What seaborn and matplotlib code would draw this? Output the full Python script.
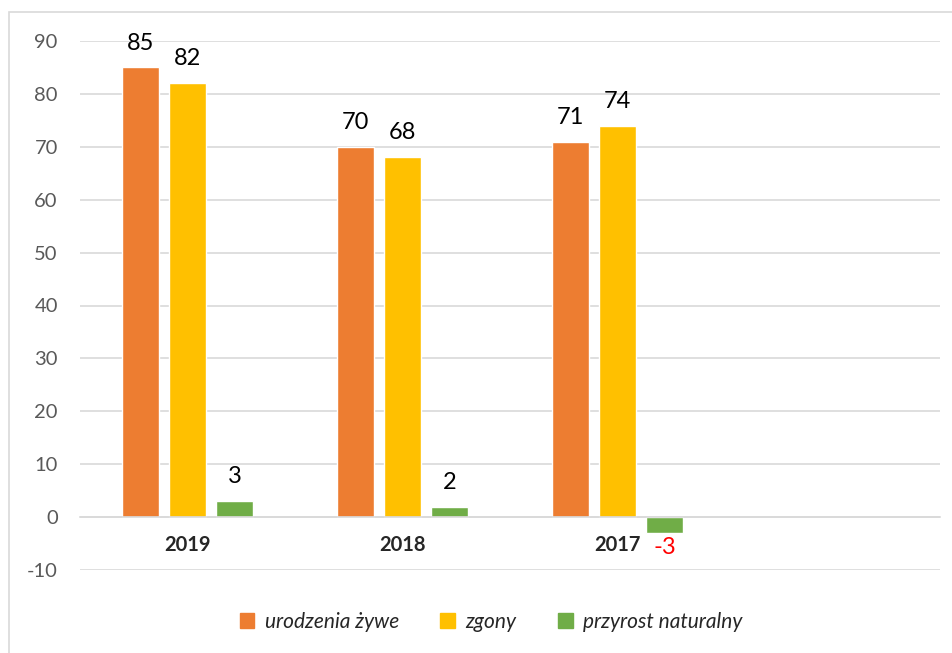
import numpy as np
import pandas as pd
import matplotlib.pyplot as plt
import seaborn as sns
from matplotlib.patches import Rectangle

years = ["2019", "2018", "2017", ""]
births = [85, 70, 71, np.nan]
deaths = [82, 68, 74, np.nan]
growth = [3, 2, -3, np.nan]
series = ["urodzenia żywe", "zgony", "przyrost naturalny"]
colors = ["#ED7D31", "#FFC000", "#70AD47"]

df = pd.DataFrame({
    "rok": years * 3,
    "seria": [s for s in series for _ in years],
    "wartosc": births + deaths + growth,
})

sns.set_style("white")
plt.rcParams["font.family"] = ["Lato", "DejaVu Sans"]
plt.rcParams["axes.unicode_minus"] = False

fig = plt.figure(figsize=(9.53, 6.53), dpi=100)
fig.patches.append(Rectangle((9 / 953, -0.1), 1.2, 1 - 12 / 653 + 0.1, transform=fig.transFigure,
                             fill=False, edgecolor="#D9D9D9", linewidth=1.2))
ax = fig.add_axes([80 / 953, 1 - 570 / 653, 860 / 953, 529 / 653])

sns.barplot(data=df, x="rok", y="wartosc", hue="seria", order=years, hue_order=series,
            palette=colors, width=0.656, gap=0.21, saturation=1, ax=ax, legend=False)

ax.set_ylim(-10, 90)
ax.set_xlim(-0.5, 3.5)
ax.set_yticks(range(-10, 91, 10))
ax.grid(axis="y", color="#D9D9D9", linewidth=1.2)
ax.set_axisbelow(True)
for s in ["top", "right", "left"]:
    ax.spines[s].set_visible(False)
ax.spines["bottom"].set_position(("data", 0))
ax.spines["bottom"].set_color("#D9D9D9")
ax.spines["bottom"].set_linewidth(1.2)
ax.tick_params(axis="y", length=0, pad=16, labelsize=14.5, labelcolor="#595959")
ax.tick_params(axis="x", length=0, pad=13, labelsize=14.5)
for lbl in ax.get_xticklabels():
    lbl.set_fontweight("bold")
ax.set_xlabel("")
ax.set_ylabel("")

for cont in ax.containers:
    for bar in cont:
        h = bar.get_height()
        if np.isnan(h):
            continue
        x = bar.get_x() + bar.get_width() / 2
        if h >= 0:
            ax.annotate(f"{h:.0f}", (x, h), xytext=(0, 10), textcoords="offset points",
                        ha="center", va="bottom", fontsize=17, color="black")
        else:
            ax.annotate(f"{h:.0f}", (x, h), xytext=(0, -3), textcoords="offset points",
                        ha="center", va="top", fontsize=17, color="red")

handles = [Rectangle((0, 0), 1, 1, color=c) for c in colors]
fig.legend(handles, series, loc="center", bbox_to_anchor=(491 / 953, 1 - 622 / 653), ncol=3,
           frameon=False, handlelength=0.7, handleheight=0.7, columnspacing=2.0, handletextpad=0.5,
           prop={"style": "italic", "size": 15})

plt.savefig("out.png", dpi=100)
